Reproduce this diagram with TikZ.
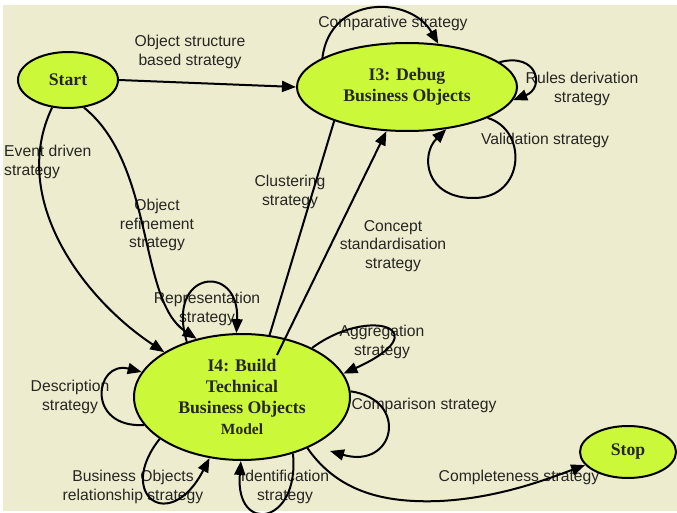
\documentclass[tikz,border=0pt]{standalone}
\usepackage{fontspec}
\setmainfont{Liberation Serif}
\setsansfont{Liberation Sans}
\usetikzlibrary{shapes.geometric,arrows.meta}
\definecolor{paper}{RGB}{238,236,207}
\definecolor{stategreen}{RGB}{204,248,58}
\definecolor{ink}{RGB}{38,38,34}
\tikzset{
  state/.style={ellipse, draw=black, line width=2pt, fill=stategreen,
    inner sep=0pt, align=center, text=ink,
    font=\fontsize{17.7}{21}\selectfont\bfseries},
  lbl/.style={font=\sffamily\fontsize{15.7}{18.5}\selectfont, text=ink,
    align=center, inner sep=0pt},
  flow/.style={line width=2pt, -{Triangle[length=14pt,width=11pt]}},
  plainline/.style={line width=2pt},
}
\begin{document}
\begin{tikzpicture}[x=1pt,y=-1pt]
\useasboundingbox (0,0) rectangle (677,513);
\fill[paper] (3,5) rectangle (677,511);

% states
\node[state, minimum width=100pt, minimum height=56pt] (start) at (68,80) {Start};
\node[state, minimum width=220pt, minimum height=88pt] (i3) at (407,87) {I3: Debug\\Business Objects};
\node[state, minimum width=216pt, minimum height=126pt] (i4) at (242,397)
  {I4: Build\\Technical\\Business Objects\\{\fontsize{15.5}{18}\selectfont Model}};
\node[state, minimum width=96pt, minimum height=52pt] (stop) at (628,452) {Stop};

% strategy labels
\node[lbl] (lOs) at (190,52) {Object structure\\based strategy};
\node[lbl, anchor=west, align=left] (lEv) at (4,162) {Event driven\\strategy};
\node[lbl] (lOr) at (157,225) {Object\\refinement\\strategy};
\node[lbl] (lCl) at (290,192) {Clustering\\strategy};
\node[lbl] (lCs) at (393,246) {Concept\\standardisation\\strategy};
\node[lbl] (lCv) at (393,23) {Comparative strategy};
\node[lbl] (lRd) at (582,89) {Rules derivation\\strategy};
\node[lbl] (lVa) at (545,140) {Validation strategy};
\node[lbl] (lRe) at (207,309) {Representation\\strategy};
\node[lbl] (lDe) at (70,397) {Description\\strategy};
\node[lbl] (lBo) at (133,487) {Business Objects\\relationship strategy};
\node[lbl] (lId) at (285,487) {Identification\\strategy};
\node[lbl] (lAg) at (382,342) {Aggregation\\strategy};
\node[lbl] (lCo) at (424,405) {Comparison strategy};
\node[lbl] (lCp) at (519,477) {Completeness strategy};

% free ends
\coordinate (csFrom) at (277,355);
\coordinate (cmpEnd) at (330,451);

% transitions between states
\draw[flow] (start.east) -- (i3.west);
\draw[flow] (start.240) .. controls (8,200) and (85,300) .. (i4.150);
\draw[flow] (start.300) .. controls (155,165) and (138,300) .. (i4.128);
\draw[plainline] (i4.66) -- (i3.205);
\draw[flow] (csFrom) -- (i3.245);
\draw[flow] (i4.322) .. controls (340,495) and (390,503) .. (440,501)
  .. controls (500,498) and (550,478) .. (stop.197);

% self loops on I3
\draw[flow] (i3.161) .. controls (330,-5) and (410,-5) .. (i3.54);
\draw[flow] (i3.15) .. controls (538,52) and (545,88) .. (i3.353);
\draw[flow] (i3.339) .. controls (528,130) and (525,197) .. (475,198)
  .. controls (425,199) and (420,155) .. (i3.313);

% self loops on I4
\draw[flow] (i4.135) .. controls (165,270) and (240,262) .. (i4.95);
\draw[flow] (i4.196) .. controls (85,428) and (95,360) .. (i4.166);
\draw[flow] (i4.207) .. controls (115,495) and (170,535) .. (i4.242);
\draw[flow] (i4.312) .. controls (300,525) and (235,535) .. (i4.269);
\draw[flow] (i4.35) .. controls (370,305) and (440,330) .. (i4.13);
\draw[flow] (i4.3) .. controls (410,400) and (395,470) .. (cmpEnd);
\end{tikzpicture}
\end{document}
